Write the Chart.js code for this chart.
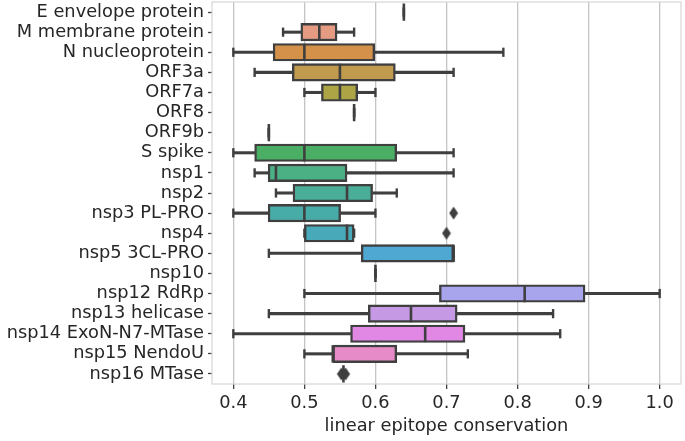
<!DOCTYPE html>
<html>
<head>
<meta charset="utf-8">
<script src="https://cdn.jsdelivr.net/npm/chart.js@4/dist/chart.umd.min.js"></script>
<style>
  html, body { margin: 0; padding: 0; background: #ffffff; }
  #wrap { width: 685px; height: 441px; position: relative; }
</style>
</head>
<body>
<div id="wrap"><canvas id="c" width="685" height="441"></canvas></div>
<script>
// ---- data ----
const categories = ['E envelope protein','M membrane protein','N nucleoprotein','ORF3a','ORF7a','ORF8','ORF9b','S spike','nsp1','nsp2','nsp3 PL-PRO','nsp4','nsp5 3CL-PRO','nsp10','nsp12 RdRp','nsp13 helicase','nsp14 ExoN-N7-MTase','nsp15 NendoU','nsp16 MTase'];
const whiskerLow  = [0.64, 0.47,  0.40,  0.43,  0.50,  0.57, 0.45, 0.40, 0.43,  0.46,  0.40,  0.50, 0.45, 0.60, 0.50,  0.45,  0.40,  0.50, 0.555];
const q1          = [0.64, 0.495, 0.456, 0.483, 0.524, 0.57, 0.45, 0.43, 0.449, 0.484, 0.449, 0.50, 0.58, 0.60, 0.69,  0.59,  0.565, 0.54, 0.555];
const medians     = [0.64, 0.521, 0.50,  0.55,  0.55,  0.57, 0.45, 0.50, 0.46,  0.56,  0.50,  0.56, 0.71, 0.60, 0.81,  0.65,  0.67,  0.54, 0.555];
const q3          = [0.64, 0.546, 0.599, 0.628, 0.575, 0.57, 0.45, 0.63, 0.56,  0.596, 0.551, 0.57, 0.71, 0.60, 0.895, 0.715, 0.726, 0.63, 0.555];
const whiskerHigh = [0.64, 0.57,  0.78,  0.71,  0.60,  0.57, 0.45, 0.71, 0.71,  0.63,  0.60,  0.57, 0.71, 0.60, 1.00,  0.85,  0.86,  0.73, 0.555];
const outlierCategory = ['nsp3 PL-PRO', 'nsp4', 'nsp16 MTase', 'nsp16 MTase'];
const outlierValue    = [0.71, 0.70, 0.552, 0.558];
const xTicks = [0.4, 0.5, 0.6, 0.7, 0.8, 0.9, 1.0];
const xTitle = 'linear epitope conservation';

// ---- styles ----
const boxColors = ['#e5838d','#e59a82','#d4914a','#c09a4d','#ada545','#9aaa44','#75b044','#4aaf65','#4bb084','#4aad98','#47aca8','#48a9b8','#4fa8d2','#7fa2e6','#a9a5ec','#c699e5','#e188e5','#e68bc7','#e88aa5'];
const lineColor = '#3f3f3f';
const FONT = 'DejaVu Sans';
const FS = 17.8;

// thin diamond marker (matplotlib 'd')
const diamond = document.createElement('canvas');
diamond.width = 10; diamond.height = 14;
(function(){
  const g = diamond.getContext('2d');
  g.fillStyle = lineColor;
  g.beginPath();
  g.moveTo(5, 0.5); g.lineTo(9.4, 7); g.lineTo(5, 13.5); g.lineTo(0.6, 7); g.closePath();
  g.fill();
})();

const framePlugin = {
  id: 'frame',
  beforeDatasetsDraw(chart) {
    const a = chart.chartArea, ctx = chart.ctx;
    ctx.save();
    ctx.strokeStyle = '#d6d6d6';
    ctx.lineWidth = 1.2;
    ctx.strokeRect(a.left, a.top, a.right - a.left, a.bottom - a.top);
    ctx.restore();
  }
};

const capPoints = categories.map((c, i) => ({x: whiskerLow[i], y: c}))
  .concat(categories.map((c, i) => ({x: whiskerHigh[i], y: c})));

new Chart(document.getElementById('c'), {
  type: 'bar',
  data: {
    labels: categories,
    datasets: [
      {
        type: 'scatter', label: 'outliers', order: 0,
        data: outlierCategory.map((c, i) => ({x: outlierValue[i], y: c})),
        pointStyle: diamond, pointRadius: 6, showLine: false
      },
      {
        type: 'scatter', label: 'median', order: 1,
        data: categories.map((c, i) => ({x: medians[i], y: c})),
        pointStyle: 'line', pointRotation: 90, pointRadius: 8.6,
        pointBorderWidth: 2.6, pointBorderColor: lineColor, borderColor: lineColor, showLine: false
      },
      {
        type: 'scatter', label: 'caps', order: 2,
        data: capPoints,
        pointStyle: 'line', pointRotation: 90, pointRadius: 4.6,
        pointBorderWidth: 2.4, pointBorderColor: lineColor, borderColor: lineColor, showLine: false
      },
      {
        label: 'box', order: 3,
        data: categories.map((c, i) => [q1[i], q3[i]]),
        backgroundColor: boxColors, borderColor: lineColor, borderWidth: 2.4,
        borderSkipped: false, barThickness: 17.5, grouped: false
      },
      {
        label: 'lower whisker', order: 4,
        data: categories.map((c, i) => [whiskerLow[i], q1[i]]),
        backgroundColor: lineColor, borderWidth: 0, barThickness: 2.4, grouped: false
      },
      {
        label: 'upper whisker', order: 5,
        data: categories.map((c, i) => [q3[i], whiskerHigh[i]]),
        backgroundColor: lineColor, borderWidth: 0, barThickness: 2.4, grouped: false
      }
    ]
  },
  options: {
    indexAxis: 'y',
    responsive: false,
    animation: false,
    events: [],
    layout: { autoPadding: false, padding: { top: 2, right: 4, left: 0, bottom: 0 } },
    plugins: { legend: { display: false }, tooltip: { enabled: false } },
    scales: {
      x: {
        type: 'linear', position: 'bottom',
        min: 0.37, max: 1.03,
        afterBuildTicks(scale) { scale.ticks = xTicks.map(v => ({value: v})); },
        afterFit(scale) { scale.height = 57; scale.paddingLeft = 0; scale.paddingRight = 0; },
        ticks: {
          color: '#262626', font: { family: FONT, size: FS }, padding: 4,
          maxRotation: 0, callback: v => Number(v).toFixed(1)
        },
        grid: { color: '#c4c4c4', lineWidth: 1.3, drawTicks: true, tickLength: 5, tickColor: '#444444', tickWidth: 1.3 },
        border: { display: false },
        title: { display: true, text: xTitle, color: '#262626', font: { family: FONT, size: FS }, padding: { top: 0, bottom: 4 } }
      },
      y: {
        type: 'category', position: 'left', offset: true,
        afterFit(scale) { scale.width = 212; scale.paddingTop = 0; scale.paddingBottom = 0; },
        ticks: { color: '#262626', font: { family: FONT, size: FS }, padding: 4, autoSkip: false },
        grid: { display: true, offset: false, drawOnChartArea: false, drawTicks: true, tickLength: 4, tickColor: '#444444', tickWidth: 1.3 },
        border: { display: false }
      }
    }
  },
  plugins: [framePlugin]
});
</script>
</body>
</html>
